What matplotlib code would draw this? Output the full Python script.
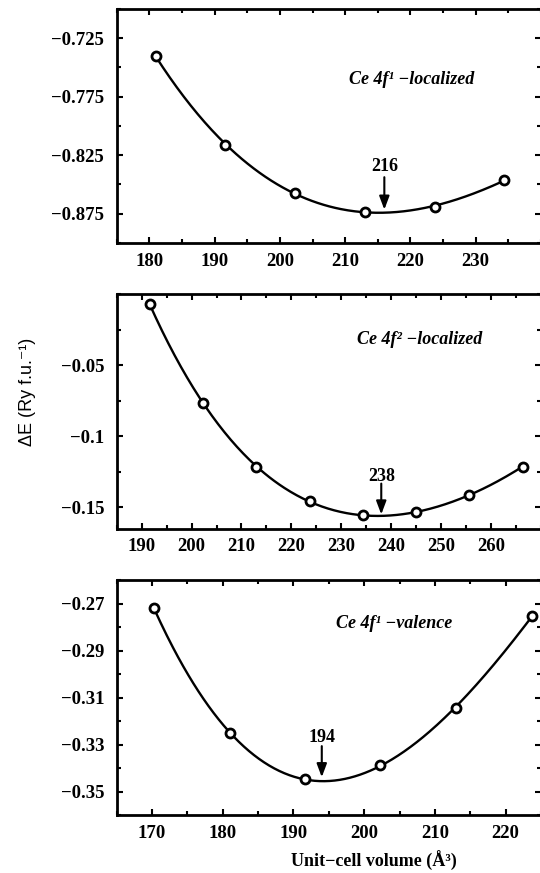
import numpy as np
import matplotlib
matplotlib.use("Agg")
import matplotlib.pyplot as plt
from matplotlib.ticker import MultipleLocator, FixedLocator, FuncFormatter

# datos
vol_4f1_loc = [181.0, 191.6, 202.3, 213.0, 223.7, 234.3]
dE_4f1_loc = [-0.7406, -0.8160, -0.8574, -0.8732, -0.8690, -0.8466]

vol_4f2_loc = [191.6, 202.3, 213.0, 223.7, 234.3, 245.0, 255.6, 266.3]
dE_4f2_loc = [-0.0072, -0.0766, -0.1215, -0.1460, -0.1556, -0.1537, -0.1413, -0.1215]

vol_4f1_val = [170.3, 181.0, 191.6, 202.3, 213.0, 223.7]
dE_4f1_val = [-0.2721, -0.3252, -0.3446, -0.3385, -0.3143, -0.2754]

etiquetas = ["Ce 4f\u00b9 \u2212localized", "Ce 4f\u00b2 \u2212localized", "Ce 4f\u00b9 \u2212valence"]
minimos = [216, 238, 194]

# marcas de los ejes
xticks_1 = [180, 190, 200, 210, 220, 230]
yticks_1 = [-0.875, -0.825, -0.775, -0.725]
xticks_2 = [190, 200, 210, 220, 230, 240, 250, 260]
yticks_2 = [-0.15, -0.1, -0.05]
xticks_3 = [170, 180, 190, 200, 210, 220]
yticks_3 = [-0.35, -0.33, -0.31, -0.29, -0.27]

plt.rcParams['font.family'] = ['Liberation Serif', 'DejaVu Serif']
plt.rcParams['font.weight'] = 'bold'

fig = plt.figure(figsize=(5.4, 8.73), dpi=100)
W, H = 540.0, 873.0
izq, der = 116.7, 541.0

def crear_ejes(arriba, abajo):
    return fig.add_axes([izq / W, (H - abajo) / H, (der - izq) / W, (abajo - arriba) / H])

ejes = [crear_ejes(8.8, 243.0), crear_ejes(294.0, 528.5), crear_ejes(580.0, 815.3)]

paneles = [
    dict(v=vol_4f1_loc, e=dE_4f1_loc, grado=3, xlim=(175, 240), ylim=(-0.9, -0.7),
         xt=xticks_1, yt=yticks_1, ymin=0.025, fmt='%.3f', ylbl=(0.695, 0.700),
         flecha=(-0.8344, -0.8438, -0.8715)),
    dict(v=vol_4f2_loc, e=dE_4f2_loc, grado=4, xlim=(185, 270), ylim=(-0.165, 0.0),
         xt=xticks_2, yt=yticks_2, ymin=0.025, fmt='%g', ylbl=(0.715, 0.804),
         flecha=(-0.1283, -0.1334, -0.1551)),
    dict(v=vol_4f1_val, e=dE_4f1_val, grado=3, xlim=(165, 225), ylim=(-0.36, -0.26),
         xt=xticks_3, yt=yticks_3, ymin=0.01, fmt='%.2f', ylbl=(0.655, 0.816),
         flecha=(-0.3271, -0.3306, -0.3438)),
]

for i, (ax, p) in enumerate(zip(ejes, paneles)):
    v = np.array(p['v'])
    e = np.array(p['e'])
    # ajuste polinomico para la curva suave
    coef = np.polyfit(v, e, p['grado'])
    vv = np.linspace(v.min(), v.max(), 300)
    ax.plot(vv, np.polyval(coef, vv), color='black', lw=1.7)
    ax.plot(v, e, 'o', mfc='white', mec='black', ms=6.5, mew=2.0)

    ax.set_xlim(*p['xlim'])
    ax.set_ylim(*p['ylim'])
    ax.xaxis.set_major_locator(FixedLocator(p['xt']))
    ax.xaxis.set_minor_locator(MultipleLocator(5))
    ax.yaxis.set_major_locator(FixedLocator(p['yt']))
    ax.yaxis.set_minor_locator(MultipleLocator(p['ymin']))
    fmt = p['fmt']
    ax.yaxis.set_major_formatter(FuncFormatter(lambda y, pos, f=fmt: (f % y).replace('-', '\u2212')))
    ax.xaxis.set_major_formatter(FuncFormatter(lambda x, pos: '%d' % x))
    ax.tick_params(which='both', direction='in', top=True, right=True, width=1.5,
                   labelsize=13.5)
    ax.tick_params(axis='y', pad=9)
    ax.tick_params(axis='x', pad=7)
    ax.tick_params(which='major', length=4.5)
    ax.tick_params(which='minor', length=2.8)
    for s in ax.spines.values():
        s.set_linewidth(2.0)
    for lab in ax.get_xticklabels() + ax.get_yticklabels():
        lab.set_fontweight('bold')

    ax.text(p['ylbl'][0], p['ylbl'][1], etiquetas[i], transform=ax.transAxes,
            ha='center', va='center', fontsize=13, fontweight='bold', fontstyle='italic')

    ty, cola, punta = p['flecha']
    xm = minimos[i]
    ax.text(xm, ty, str(xm), ha='center', va='center', fontsize=13, fontweight='bold')
    ax.annotate('', xy=(xm, punta), xytext=(xm, cola),
                arrowprops=dict(arrowstyle='-|>,head_length=0.4,head_width=0.15',
                                color='black', lw=1.5, shrinkA=0, shrinkB=0,
                                mutation_scale=20))

fig.text(27.5 / W, 1 - 392 / H, '\u0394E (Ry f.u.\u207b\u00b9)', rotation=90,
         ha='center', va='center', fontsize=13, fontweight='normal',
         family=['Liberation Sans', 'DejaVu Sans'])
fig.text(373.6 / W, 1 - 861 / H, 'Unit\u2212cell volume (\u00c5\u00b3)',
         ha='center', va='center', fontsize=13, fontweight='bold')

fig.savefig('out.png', dpi=100)
